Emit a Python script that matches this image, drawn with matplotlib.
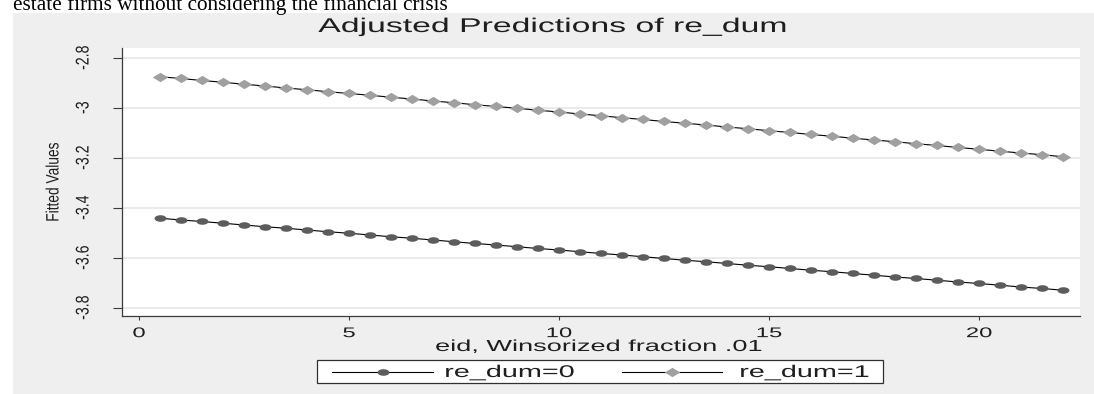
"""
plot.py - Stata-style "Adjusted Predictions of re_dum" margins plot, redrawn in matplotlib.
The source screenshot was pasted at a wider aspect than Stata drew it, so text and
markers look stretched sideways; a small path effect fakes that on the real text.
Run: python3 plot.py  -> out.png (1094x394)
"""
import matplotlib
matplotlib.use("Agg")
import matplotlib.pyplot as plt
from matplotlib.lines import Line2D
from matplotlib.patches import Rectangle
from matplotlib.path import Path
from matplotlib.patheffects import AbstractPathEffect
from matplotlib.transforms import Affine2D

W, H = 1094, 394
SX_TEXT = 1.7    # sideways stretch of horizontal text in the screenshot
SX_ROT = 1.3     # rotated (y axis) text looks less stretched
FONT = "Liberation Sans"

# --- data ----------------------------------------------------------------------
eid = [0.5, 1.0, 1.5, 2.0, 2.5, 3.0, 3.5, 4.0, 4.5, 5.0, 5.5,
       6.0, 6.5, 7.0, 7.5, 8.0, 8.5, 9.0, 9.5, 10.0, 10.5, 11.0,
       11.5, 12.0, 12.5, 13.0, 13.5, 14.0, 14.5, 15.0, 15.5, 16.0, 16.5,
       17.0, 17.5, 18.0, 18.5, 19.0, 19.5, 20.0, 20.5, 21.0, 21.5, 22.0]
fit_re0 = [-3.442, -3.449, -3.455, -3.462, -3.469, -3.476, -3.482, -3.489, -3.496, -3.502, -3.509,
           -3.516, -3.522, -3.529, -3.536, -3.543, -3.549, -3.556, -3.563, -3.569, -3.576, -3.583,
           -3.589, -3.596, -3.603, -3.610, -3.616, -3.623, -3.630, -3.636, -3.643, -3.650, -3.656,
           -3.663, -3.670, -3.677, -3.683, -3.690, -3.697, -3.703, -3.710, -3.717, -3.723, -3.730]
fit_re1 = [-2.876, -2.883, -2.891, -2.898, -2.906, -2.913, -2.921, -2.928, -2.936, -2.943, -2.950,
           -2.958, -2.965, -2.973, -2.980, -2.988, -2.995, -3.002, -3.010, -3.017, -3.025, -3.032,
           -3.040, -3.047, -3.055, -3.062, -3.069, -3.077, -3.084, -3.092, -3.099, -3.107, -3.114,
           -3.122, -3.129, -3.136, -3.144, -3.151, -3.159, -3.166, -3.174, -3.181, -3.188, -3.196]
series_labels = ["re_dum=0", "re_dum=1"]
xticks = [0, 5, 10, 15, 20]
yticks = [-2.8, -3.0, -3.2, -3.4, -3.6, -3.8]
ytick_labels = ["-2.8", "-3", "-3.2", "-3.4", "-3.6", "-3.8"]

TITLE = "Adjusted Predictions of re_dum"
XLABEL = "eid, Winsorized fraction .01"
YLABEL = "Fitted Values"
CAPTION = "estate firms without considering the financial crisis"

DARK, LIGHT = "#5c5c5c", "#a0a0a0"
BG = "#efefef"


class Wide(AbstractPathEffect):
    """Draw the glyph path stretched along display x (around its centre or left edge)."""

    def __init__(self, sx, anchor="center"):
        super().__init__()
        self.sx = sx
        self.anchor = anchor

    def draw_path(self, renderer, gc, tpath, affine, rgbFace=None):
        box = tpath.get_extents(affine)
        x0 = box.x0 if self.anchor == "left" else 0.5 * (box.x0 + box.x1)
        aff = affine + Affine2D().translate(-x0, 0).scale(self.sx, 1).translate(x0, 0)
        renderer.draw_path(gc, tpath, aff, rgbFace)


def fx(px):
    return px / W


def fy(py):
    return 1 - py / H


# flattened markers: circle -> ellipse, diamond -> wide diamond
ellipse = Path(Path.unit_circle().vertices * [1.0, 0.55], Path.unit_circle().codes)
diamond = Path([(-1, 0), (0, 0.6), (1, 0), (0, -0.6), (-1, 0)],
               [Path.MOVETO, Path.LINETO, Path.LINETO, Path.LINETO, Path.CLOSEPOLY])
styles = [dict(color="black", lw=0.8, marker=ellipse, ms=8.6, mfc=DARK, mec=DARK, mew=0),
          dict(color="black", lw=0.8, marker=diamond, ms=11.2, mfc=LIGHT, mec=LIGHT, mew=0)]

fig = plt.figure(figsize=(W / 100, H / 100), dpi=100, facecolor="white")
fig.patches.append(Rectangle((fx(13), 0), 1 - fx(13), fy(13), transform=fig.transFigure,
                             facecolor=BG, edgecolor="none", zorder=-5))

ax = fig.add_axes([fx(122), fy(316), fx(1080 - 122), (316 - 48) / H])
ax.set_facecolor("white")
for ys, st in zip([fit_re0, fit_re1], styles):
    ax.plot(eid, ys, **st, zorder=3)

ax.set_xlim(-0.405, 22.40)
ax.set_ylim(-3.833, -2.761)
ax.set_xticks(xticks)
ax.set_yticks(yticks)
ax.set_yticklabels(ytick_labels)
ax.grid(axis="y", color="#e6e6e6", lw=1.1, zorder=0)
ax.set_axisbelow(True)
for side in ("top", "right"):
    ax.spines[side].set_visible(False)
for side in ("left", "bottom"):
    ax.spines[side].set_color("#3a3a3a")
    ax.spines[side].set_linewidth(0.9)
ax.tick_params(axis="x", length=3, width=0.8, color="#3a3a3a", pad=4.3,
               labelsize=10.1, labelcolor="#1e1e1e")
ax.tick_params(axis="y", length=6.5, width=0.8, color="#3a3a3a", pad=16.5,
               labelsize=10.2, labelcolor="#1e1e1e", labelrotation=90)
for lab in ax.get_xticklabels():
    lab.set_family(FONT)
    lab.set_path_effects([Wide(SX_TEXT)])
for lab in ax.get_yticklabels():
    lab.set_family(FONT)
    lab.set_va("center")
    lab.set_path_effects([Wide(SX_ROT)])

xl = ax.set_xlabel(XLABEL, family=FONT, fontsize=11.5, color="#1e1e1e", va="baseline")
ax.xaxis.set_label_coords(0.498, (316 - 351) / 268)
xl.set_path_effects([Wide(SX_TEXT)])
yl = ax.set_ylabel(YLABEL, family=FONT, fontsize=9.9, color="#1e1e1e", va="center")
ax.yaxis.set_label_coords((53 - 122) / 958, 0.5)
yl.set_path_effects([Wide(SX_ROT)])

fig.text(fx(553), fy(32), TITLE, family=FONT, fontsize=14.3, color="#1e1e1e",
         ha="center", va="baseline", path_effects=[Wide(SX_TEXT)])

# document text above the pasted graph (cut at the top of the screenshot)
fig.text(fx(13), fy(10), CAPTION, family="Liberation Serif", fontsize=15.3,
         color="black", ha="left", va="baseline", zorder=5)

# legend box, drawn by hand so the stretched labels sit where the screenshot has them
fig.patches.append(Rectangle((fx(317), fy(383)), fx(883 - 317), (383 - 360) / H,
                             transform=fig.transFigure, facecolor="white",
                             edgecolor="#303030", lw=0.9, zorder=2))
for (x0, x1, xt), lab, st in zip([(332, 433, 445), (622, 722, 740)], series_labels, styles):
    fig.lines.append(Line2D([fx(x0), fx((x0 + x1) / 2), fx(x1)], [fy(371.5)] * 3,
                            transform=fig.transFigure, markevery=[1], zorder=3, **st))
    fig.text(fx(xt), fy(377), lab, family=FONT, fontsize=12.2, color="#1e1e1e",
             ha="left", va="baseline", zorder=4, path_effects=[Wide(SX_TEXT, "left")])

fig.savefig("out.png", dpi=100)
